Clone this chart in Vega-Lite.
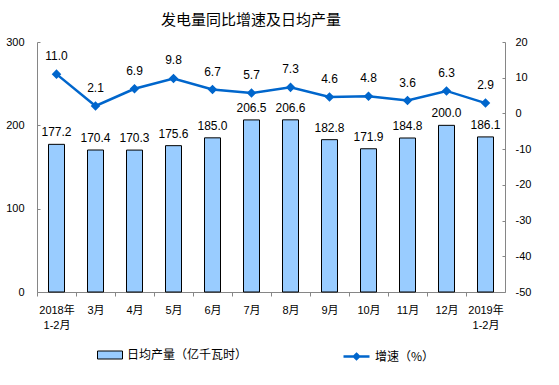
{
  "$schema": "https://vega.github.io/schema/vega-lite/v6.json",
  "width": 468,
  "height": 250,
  "autosize": {"type": "none"},
  "padding": {"left": 37, "top": 42, "right": 54, "bottom": 93},
  "background": "white",
  "title": {"text": "发电量同比增速及日均产量", "font": "Noto Sans CJK SC", "fontSize": 15, "fontWeight": "normal", "color": "#000", "anchor": "middle", "dx": -20, "offset": 8},
  "config": {
    "view": {"stroke": null},
    "axis": {"labelFont": "Liberation Sans, Noto Sans CJK SC", "labelFontSize": 11, "labelColor": "#000", "domainColor": "#868686", "tickColor": "#868686", "grid": false, "title": null}
  },
  "data": {"values": [
    {"month": "2018年|1-2月", "output": 177.2, "growth": 11.0},
    {"month": "3月", "output": 170.4, "growth": 2.1},
    {"month": "4月", "output": 170.3, "growth": 6.9},
    {"month": "5月", "output": 175.6, "growth": 9.8},
    {"month": "6月", "output": 185.0, "growth": 6.7},
    {"month": "7月", "output": 206.5, "growth": 5.7},
    {"month": "8月", "output": 206.6, "growth": 7.3},
    {"month": "9月", "output": 182.8, "growth": 4.6},
    {"month": "10月", "output": 171.9, "growth": 4.8},
    {"month": "11月", "output": 184.8, "growth": 3.6},
    {"month": "12月", "output": 200.0, "growth": 6.3},
    {"month": "2019年|1-2月", "output": 186.1, "growth": 2.9}
  ]},
  "encoding": {
    "x": {"field": "month", "type": "nominal", "sort": null,
      "scale": {"paddingInner": 0, "paddingOuter": 0},
      "axis": {"labelAngle": 0, "labelExpr": "split(datum.label,'|')", "tickOffset": -19.5, "labelOffset": 19.5, "tickSize": 4, "labelPadding": 8, "labelLineHeight": 15, "labelBaseline": "top"}}
  },
  "layer": [
    {
      "encoding": {"y": {"field": "output", "type": "quantitative", "scale": {"domain": [0, 300]}, "axis": {"values": [0, 100, 200, 300], "orient": "left", "tickSize": -3, "labelPadding": 16}}},
      "layer": [
        {"mark": {"type": "bar", "stroke": "#000", "strokeWidth": 1, "size": 16},
         "encoding": {"fill": {"datum": "日均产量（亿千瓦时）", "scale": {"range": ["#99ccff"]},
           "legend": {"orient": "none", "legendX": 60, "legendY": 300, "title": null, "symbolType": "M-1,-0.32H1V0.32H-1Z", "symbolSize": 625, "symbolStrokeColor": "#000", "symbolStrokeWidth": 1, "labelFont": "Noto Sans CJK SC", "labelFontSize": 12, "labelColor": "#000", "labelOffset": 4}}}},
        {"mark": {"type": "text", "dy": -8, "baseline": "alphabetic", "font": "Liberation Sans", "fontSize": 12, "color": "#000"},
         "encoding": {"text": {"field": "output", "type": "quantitative", "format": ".1f"}}}
      ]
    },
    {
      "encoding": {"y": {"field": "growth", "type": "quantitative", "scale": {"domain": [-50, 20]}, "axis": {"values": [-50, -40, -30, -20, -10, 0, 10, 20], "orient": "right", "tickSize": -3, "labelPadding": 13, "labelExpr": "'' + datum.value"}}},
      "layer": [
        {"mark": {"type": "line", "strokeWidth": 2.5, "point": {"shape": "diamond", "size": 45, "filled": true, "color": "#0066cc"}},
         "encoding": {"stroke": {"datum": "增速（%）", "scale": {"range": ["#0066cc"]},
           "legend": {"orient": "none", "legendX": 305, "legendY": 300, "title": null, "symbolType": "M-1,0H1M0,-0.2L0.2,0L0,0.2L-0.2,0Z", "symbolSize": 676, "symbolStrokeWidth": 2.5, "symbolFillColor": "#0066cc", "labelFont": "Noto Sans CJK SC", "labelFontSize": 12, "labelColor": "#000", "labelOffset": 4}}}},
        {"mark": {"type": "text", "dy": -14, "baseline": "alphabetic", "font": "Liberation Sans", "fontSize": 12, "color": "#000"},
         "encoding": {"text": {"field": "growth", "type": "quantitative", "format": ".1f"}}}
      ]
    }
  ],
  "resolve": {"scale": {"y": "independent"}}
}
